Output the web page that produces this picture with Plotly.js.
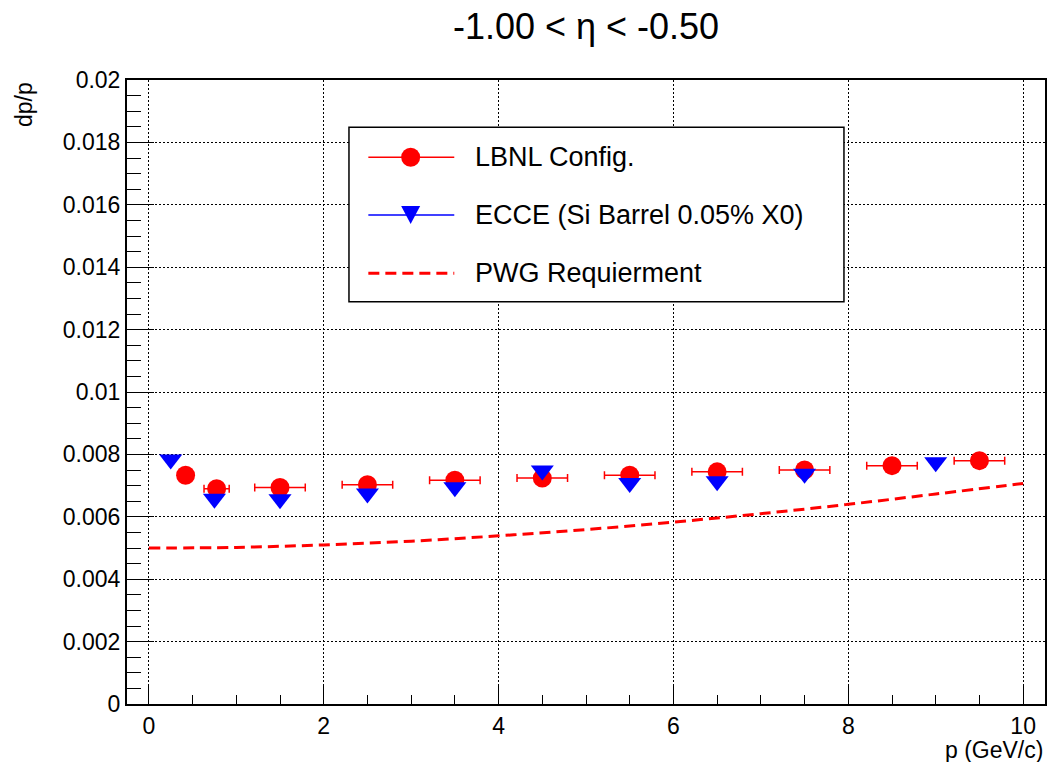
<!DOCTYPE html>
<html>
<head>
<meta charset="utf-8">
<script src="https://cdn.plot.ly/plotly-3.0.1.min.js"></script>
<style>html,body{margin:0;padding:0;background:#fff;}#chart{width:1051px;height:762px;}</style>
</head>
<body>
<div id="chart"></div>
<script>
// ---- data ----
const lbnlP    = [0.42, 0.775, 1.5, 2.5, 3.5, 4.5, 5.5, 6.5, 7.5, 8.5, 9.5];
const lbnlErrP = [0.08, 0.144, 0.289, 0.289, 0.289, 0.289, 0.289, 0.289, 0.289, 0.289, 0.289];
const lbnlDpp  = [0.00733, 0.00690, 0.00694, 0.00703, 0.00717, 0.00724, 0.00733, 0.00744, 0.00750, 0.00764, 0.00780];

const ecceP    = [0.25, 0.75, 1.5, 2.5, 3.5, 4.5, 5.5, 6.5, 7.5, 9.0];
const ecceDpp  = [0.00784, 0.00658, 0.00656, 0.00675, 0.00695, 0.00748, 0.00708, 0.00714, 0.00738, 0.00775];

const pwgP     = [0, 1, 2, 3, 4, 5, 6, 7, 8, 9, 10];
const pwgDpp   = [0.00500, 0.00502, 0.00510, 0.00522, 0.00539, 0.00559, 0.00583, 0.00610, 0.00640, 0.00673, 0.00707];

const seriesNames = ['LBNL Config.', 'ECCE (Si Barrel 0.05% X0)', 'PWG Requierment'];
const xTickVals = [0, 2, 4, 6, 8, 10];
const xTickText = ['0', '2', '4', '6', '8', '10'];
const yTickVals = [0, 0.002, 0.004, 0.006, 0.008, 0.01, 0.012, 0.014, 0.016, 0.018, 0.02];
const yTickText = ['0', '0.002', '0.004', '0.006', '0.008', '0.01', '0.012', '0.014', '0.016', '0.018', '0.02'];
const titleText = '-1.00 < η < -0.50';
const xTitle = 'p (GeV/c)';
const yTitle = 'dp/p';

// ---- styling ----
const FONT = 'Liberation Sans, Arial, Helvetica, sans-serif';
const RED = '#ff0000', BLUE = '#0000ff';
const DASH = '11px,6px';

const traces = [
  { x: pwgP, y: pwgDpp, mode: 'lines', name: seriesNames[2], showlegend: false,
    line: { color: RED, width: 3, dash: DASH, shape: 'spline' } },
  { x: lbnlP, y: lbnlDpp, mode: 'markers', name: seriesNames[0], showlegend: false,
    marker: { symbol: 'circle', size: 19, color: RED, line: { width: 0 } },
    error_x: { type: 'data', array: lbnlErrP, color: RED, thickness: 1.5, width: 4 } },
  { x: ecceP, y: ecceDpp, mode: 'markers', name: seriesNames[1], showlegend: false,
    marker: { symbol: 'triangle-down', size: 20, color: BLUE, line: { width: 0 } } }
];

// hand-built legend box (paper units == plot-area units here)
const legRows = [0.8761, 0.7837, 0.6902];
const legX0 = 0.2629, legX1 = 0.3565, legMX = 0.3090, legTextX = 0.3772;

const shapes = [
  { type: 'rect', xref: 'paper', yref: 'paper', x0: 0.2418, x1: 0.7810, y0: 0.6447, y1: 0.9242,
    line: { color: '#000', width: 1.5 }, fillcolor: '#fff', layer: 'above' },
  { type: 'line', xref: 'paper', yref: 'paper', x0: legX0, x1: legX1, y0: legRows[0], y1: legRows[0],
    line: { color: RED, width: 1.5 }, layer: 'above' },
  { type: 'line', xref: 'paper', yref: 'paper', x0: legX0, x1: legX1, y0: legRows[1], y1: legRows[1],
    line: { color: BLUE, width: 1.5 }, layer: 'above' },
  { type: 'line', xref: 'paper', yref: 'paper', x0: legX0, x1: legX1, y0: legRows[2], y1: legRows[2],
    line: { color: RED, width: 3, dash: DASH }, layer: 'above' },
  { type: 'circle', xref: 'paper', yref: 'paper', xsizemode: 'pixel', ysizemode: 'pixel',
    xanchor: legMX, yanchor: legRows[0], x0: -9.5, x1: 9.5, y0: -9.5, y1: 9.5,
    fillcolor: RED, line: { width: 0 }, layer: 'above' },
  { type: 'path', xref: 'paper', yref: 'paper', xsizemode: 'pixel', ysizemode: 'pixel',
    xanchor: legMX, yanchor: legRows[1], path: 'M-9.5,9 L9.5,9 L0,-9 Z',
    fillcolor: BLUE, line: { width: 0 }, layer: 'above' }
];

const annotations = [
  { text: xTitle, xref: 'paper', yref: 'paper', x: 1, y: -0.0737, xanchor: 'right', yanchor: 'middle',
    showarrow: false, font: { family: FONT, size: 23, color: '#000' } },
  { text: yTitle, xref: 'paper', yref: 'paper', x: -0.1122, y: 0.96, xanchor: 'center', yanchor: 'middle',
    textangle: -90, showarrow: false, font: { family: FONT, size: 23, color: '#000' } }
].concat(seriesNames.map((n, i) => ({
  text: n, xref: 'paper', yref: 'paper', x: legTextX, y: legRows[i], xanchor: 'left', yanchor: 'middle',
  showarrow: false, font: { family: FONT, size: 27, color: '#000' }
})));

const layout = {
  width: 1051, height: 762,
  margin: { l: 127, r: 6, t: 80, b: 58, pad: 0 },
  paper_bgcolor: '#fff', plot_bgcolor: '#fff',
  font: { family: FONT, color: '#000' },
  showlegend: false,
  title: { text: titleText, x: 0.5, xref: 'paper', xanchor: 'center', y: 0.965, yref: 'container', yanchor: 'middle',
           font: { family: FONT, size: 36, color: '#000' } },
  xaxis: {
    range: [-0.25, 10.25], tickmode: 'array', tickvals: xTickVals, ticktext: xTickText,
    ticks: 'inside', ticklen: 19, tickwidth: 1, tickcolor: '#000',
    minor: { ticks: 'inside', ticklen: 9, dtick: 0.5, tick0: 0, tickcolor: '#000', tickwidth: 1, showgrid: false },
    showgrid: true, gridcolor: '#000', gridwidth: 1, griddash: '1.5px,2.5px',
    zeroline: false, showline: true, linecolor: '#000', linewidth: 2, mirror: true,
    tickfont: { family: FONT, size: 23, color: '#000' }, ticklabelstandoff: 0, automargin: false
  },
  yaxis: {
    range: [0, 0.02], tickmode: 'array', tickvals: yTickVals, ticktext: yTickText,
    ticks: 'inside', ticklen: 27, tickwidth: 1, tickcolor: '#000',
    minor: { ticks: 'inside', ticklen: 14, dtick: 0.0005, tick0: 0, tickcolor: '#000', tickwidth: 1, showgrid: false },
    showgrid: true, gridcolor: '#000', gridwidth: 1, griddash: '1.5px,2.5px',
    zeroline: false, showline: true, linecolor: '#000', linewidth: 2, mirror: true,
    tickfont: { family: FONT, size: 23, color: '#000' }, ticklabelstandoff: 0, automargin: false
  },
  shapes: shapes,
  annotations: annotations
};

Plotly.newPlot('chart', traces, layout, { displayModeBar: false, staticPlot: true });
</script>
</body>
</html>
